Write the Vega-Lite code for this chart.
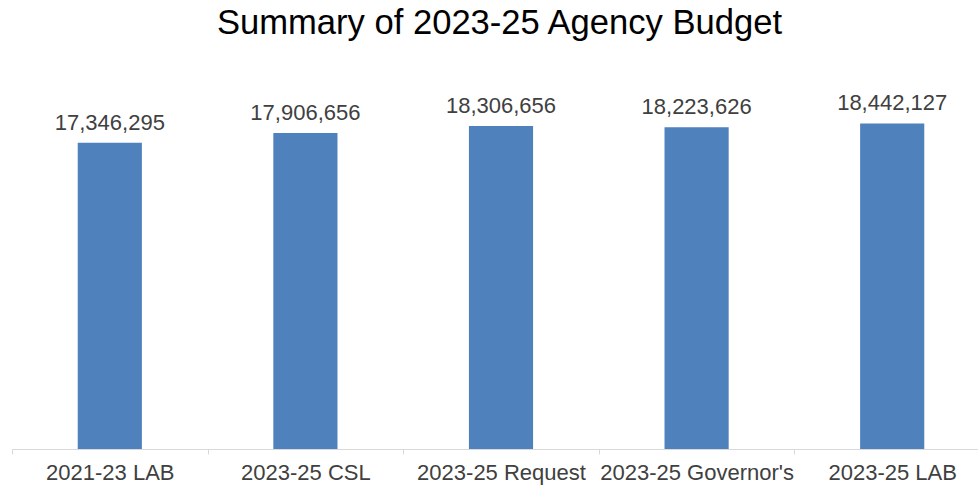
{
  "$schema": "https://vega.github.io/schema/vega-lite/v6.json",
  "autosize": {"type": "none"},
  "width": 967,
  "height": 353,
  "padding": {"left": 11, "top": 96, "right": 0, "bottom": 38},
  "background": "white",
  "title": {
    "text": "Summary of 2023-25 Agency Budget",
    "font": "Liberation Sans",
    "fontSize": 34.6,
    "fontWeight": "normal",
    "color": "#000000",
    "anchor": "middle",
    "dx": 5,
    "offset": 51
  },
  "config": {"view": {"stroke": null}},
  "data": {
    "values": [
      {"category": "2021-23 LAB", "amount": 17346295},
      {"category": "2023-25 CSL", "amount": 17906656},
      {"category": "2023-25 Request", "amount": 18306656},
      {"category": "2023-25 Governor's", "amount": 18223626},
      {"category": "2023-25 LAB", "amount": 18442127}
    ]
  },
  "encoding": {
    "x": {
      "field": "category",
      "type": "nominal",
      "sort": null,
      "scale": {"paddingInner": 0.672, "paddingOuter": 0.336, "range": [1, 979]},
      "axis": {
        "title": null,
        "labelAngle": 0,
        "labelFont": "Liberation Sans",
        "labelFontSize": 22,
        "labelColor": "#404040",
        "labelPadding": 8,
        "labelLimit": 0,
        "domainColor": "#d9d9d9",
        "tickColor": "#d9d9d9",
        "tickSize": 5,
        "tickOffset": -97.8,
        "labelOffset": 97.8,
        "grid": false
      }
    },
    "y": {
      "field": "amount",
      "type": "quantitative",
      "scale": {"domain": [0, 20000000]},
      "axis": null
    }
  },
  "layer": [
    {"mark": {"type": "bar", "color": "#4F81BD"}},
    {
      "mark": {
        "type": "text",
        "baseline": "alphabetic",
        "dy": -13,
        "font": "Liberation Sans",
        "fontSize": 22,
        "color": "#404040"
      },
      "encoding": {
        "text": {"field": "amount", "type": "quantitative", "format": ",d"}
      }
    }
  ]
}
